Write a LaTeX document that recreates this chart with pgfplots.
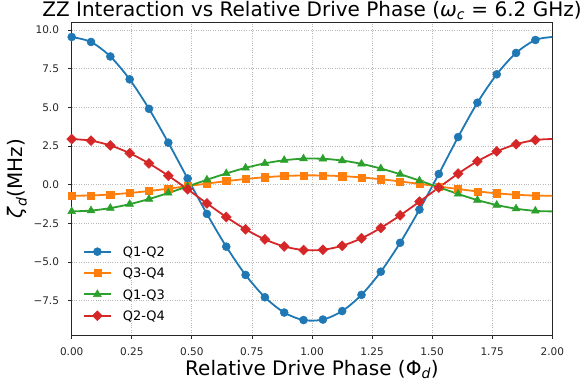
\documentclass[border=0pt]{standalone}
\usepackage{pgfplots}
\pgfplotsset{compat=1.18}
\usepackage{pgfplotstable}
\usepackage{fontspec}
\setmainfont{DejaVu Sans}
\definecolor{tabblue}{HTML}{1F77B4}
\definecolor{taborange}{HTML}{FF7F0E}
\definecolor{tabgreen}{HTML}{2CA02C}
\definecolor{tabred}{HTML}{D62728}
\pgfplotstableread{
x q12 q34 q13 q24
0.0000 9.545 -0.720 -1.730 2.950
0.0804 9.224 -0.699 -1.676 2.845
0.1608 8.287 -0.638 -1.516 2.535
0.2412 6.807 -0.539 -1.262 2.036
0.3216 4.903 -0.411 -0.929 1.372
0.4020 2.714 -0.260 -0.538 0.577
0.4824 0.398 -0.096 -0.114 -0.301
0.5628 -1.891 0.069 0.315 -1.212
0.6432 -4.009 0.227 0.724 -2.094
0.7236 -5.838 0.366 1.085 -2.889
0.8040 -7.280 0.479 1.376 -3.539
0.8844 -8.268 0.557 1.579 -3.996
0.9648 -8.755 0.596 1.680 -4.226
1.0452 -8.723 0.593 1.673 -4.211
1.1256 -8.171 0.549 1.559 -3.951
1.2060 -7.124 0.467 1.344 -3.467
1.2864 -5.628 0.350 1.043 -2.796
1.3668 -3.758 0.208 0.675 -1.988
1.4472 -1.611 0.049 0.262 -1.098
1.5276 0.690 -0.117 -0.168 -0.189
1.6080 3.076 -0.285 -0.603 0.711
1.6884 5.299 -0.438 -0.999 1.512
1.7688 7.132 -0.561 -1.318 2.147
1.8492 8.514 -0.653 -1.555 2.611
1.9296 9.353 -0.708 -1.698 2.888
2.0000 9.545 -0.720 -1.730 2.950
}\datatable
\begin{document}
\begin{tikzpicture}
\useasboundingbox (-71.7bp,-53bp) rectangle (510.3bp,335bp);
\begin{axis}[
  at={(0,0)}, anchor=south west,
  scale only axis, width=480.6bp, height=312.3bp,
  xmin=0, xmax=2, ymin=-9.72, ymax=10.47,
  xtick={0,0.25,0.5,0.75,1,1.25,1.5,1.75,2},
  xticklabels={0.00,0.25,0.50,0.75,1.00,1.25,1.50,1.75,2.00},
  ytick={-7.5,-5,-2.5,0,2.5,5,7.5,10},
  yticklabels={−7.5,−5.0,−2.5,0.0,2.5,5.0,7.5,10.0},
  tick align=outside, major tick length=3.5bp,
  tick style={black!85, line width=0.8bp},
  axis line style={black!85, line width=0.8bp},
  xtick pos=bottom, ytick pos=left,
  grid=major, grid style={dotted, black!28, line width=0.8bp},
  ticklabel style={font=\fontsize{10.5bp}{12bp}\selectfont, inner sep=0pt, text=black!85},
  xticklabel style={anchor=north, yshift=-9bp},
  yticklabel style={anchor=east, xshift=-9bp},
  every axis title shift=0pt,
  title={ZZ Interaction vs Relative Drive Phase (\textit{ω}\textsubscript{\textit{c}} = 6.2 GHz)},
  title style={at={(axis description cs:0.5,1.0202)}, anchor=base, font=\fontsize{20bp}{24bp}\selectfont, inner sep=0pt},
  xlabel={Relative Drive Phase (Φ\textsubscript{\textit{d}})},
  xlabel style={at={(axis description cs:0.5,-0.129)}, anchor=base, font=\fontsize{20bp}{24bp}\selectfont, inner sep=0pt},
  ylabel={\textit{ζ}\textsubscript{\textit{d}}(MHz)},
  ylabel style={at={(axis description cs:-0.1128,0.5)}, anchor=center, font=\fontsize{20bp}{24bp}\selectfont, inner sep=0pt},
  legend style={draw=none, fill=none, at={(axis description cs:0.0235,0.282)}, anchor=north west,
    inner sep=0pt, outer sep=0pt, row sep=11.8bp, column sep=11bp, font=\fontsize{13bp}{15.6bp}\selectfont,
    nodes={inner sep=0pt, text height=9.5bp, text depth=0pt}},
  legend cell align=left,
  legend image code/.code={\draw[#1, mark indices={2}] plot coordinates {(0bp,0bp) (13.5bp,0bp) (27bp,0bp)};},
  every axis plot/.append style={line width=1.8bp, smooth, mark indices={1,2,3,4,5,6,7,8,9,10,11,12,13,14,15,16,17,18,19,20,21,22,23,24,25}},
]
\addplot[tabblue, mark=*, mark size=4bp, mark options={solid, fill=tabblue, draw=tabblue, line width=0.5bp}] table[x=x, y=q12] {\datatable};
\addlegendentry{Q1-Q2}
\addplot[taborange, mark=square*, mark size=3.6bp, mark options={solid, fill=taborange, draw=taborange, line width=0.5bp}] table[x=x, y=q34] {\datatable};
\addlegendentry{Q3-Q4}
\addplot[tabgreen, mark=triangle*, mark size=4.5bp, mark options={solid, fill=tabgreen, draw=tabgreen, line width=0.5bp}] table[x=x, y=q13] {\datatable};
\addlegendentry{Q1-Q3}
\addplot[tabred, mark=square*, mark size=3.5bp, mark options={solid, rotate=45, fill=tabred, draw=tabred, line width=0.5bp}] table[x=x, y=q24] {\datatable};
\addlegendentry{Q2-Q4}
\end{axis}
\end{tikzpicture}
\end{document}
